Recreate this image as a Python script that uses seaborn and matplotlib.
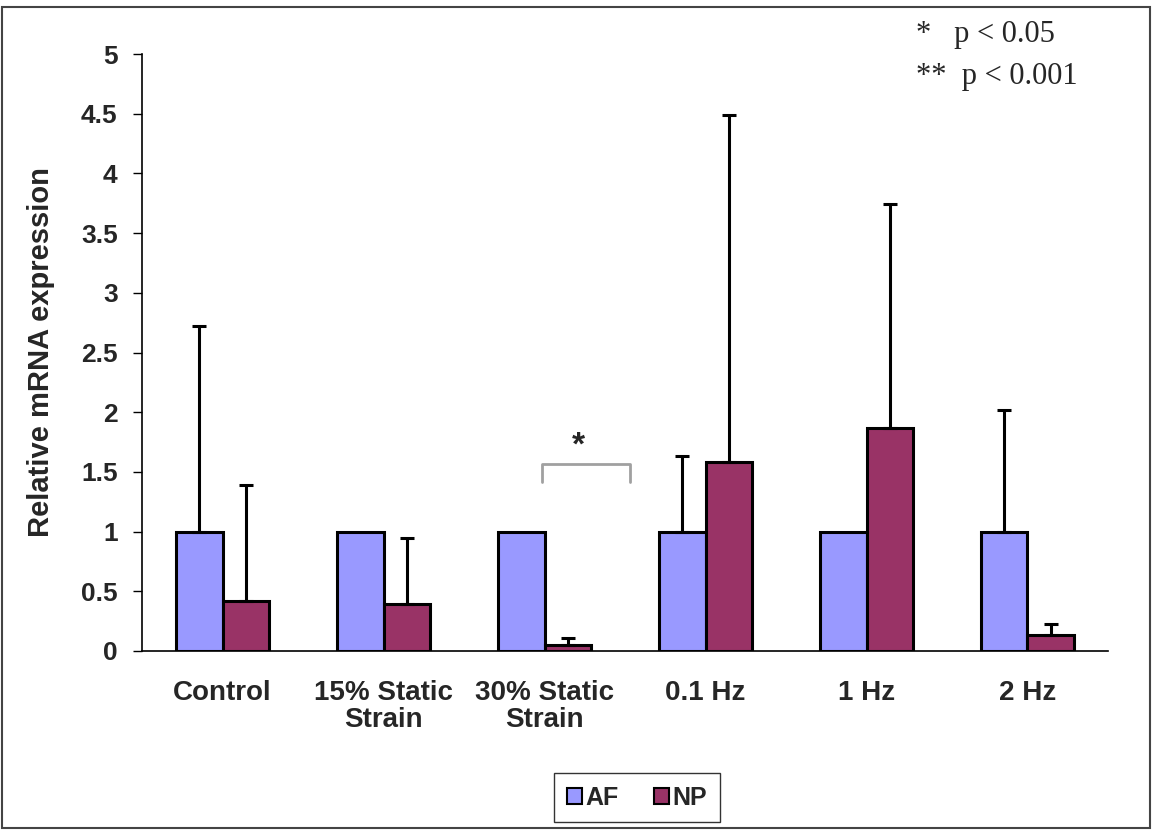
import numpy as np
import pandas as pd
import seaborn as sns
import matplotlib.pyplot as plt
from matplotlib.patches import Rectangle, Patch

# values
groups = ['Control', '15% Static\nStrain', '30% Static\nStrain', '0.1 Hz', '1 Hz', '2 Hz']
af_mean = [1.0, 1.0, 1.0, 1.0, 1.0, 1.0]
np_mean = [0.42, 0.39, 0.05, 1.58, 1.87, 0.13]
af_err = [1.72, 0.0, 0.0, 0.63, 0.0, 1.02]
np_err = [0.97, 0.56, 0.06, 2.91, 1.87, 0.10]
colors = {'AF': '#9999FF', 'NP': '#993366'}

df = pd.DataFrame({
    'group': groups * 2,
    'tissue': ['AF'] * len(groups) + ['NP'] * len(groups),
    'value': af_mean + np_mean,
})

sns.set_style('white')
plt.rcParams['font.family'] = ['Liberation Sans', 'DejaVu Sans']

fig = plt.figure(figsize=(11.52, 8.3), dpi=100)
ax = fig.add_axes([0.1233, 0.2157, 0.8385, 0.7192])

sns.barplot(data=df, x='group', y='value', hue='tissue', palette=colors,
            width=0.58, edgecolor='black', linewidth=2.2, errorbar=None,
            saturation=1, legend=False, ax=ax)

# one-sided error bars from the bar centres
n = len(groups)
for i, (means, errs) in enumerate([(af_mean, af_err), (np_mean, np_err)]):
    for j, bar in enumerate(ax.patches[i * n:(i + 1) * n]):
        if errs[j] <= 0:
            continue
        xc = bar.get_x() + bar.get_width() / 2
        ax.errorbar(xc, means[j], yerr=[[0], [errs[j]]], fmt='none',
                    ecolor='black', elinewidth=2.2, capsize=4.7, capthick=2.2)

ax.set_ylim(0, 5)
ax.set_xlim(-0.5, n - 0.5)
ax.set_yticks(np.arange(0, 5.01, 0.5))
ax.set_yticklabels(['0', '0.5', '1', '1.5', '2', '2.5', '3', '3.5', '4', '4.5', '5'],
                   fontsize=19, fontweight='bold')
ax.set_xticks(range(n))
ax.set_xticklabels(groups, fontsize=20, fontweight='bold', linespacing=1.05, va='top')
ax.set_xticks(np.arange(-0.5, n, 1.0), minor=True)
ax.tick_params(axis='x', which='major', length=0, pad=21)
ax.tick_params(axis='x', which='minor', length=7, width=1, color='black', direction='out')
ax.tick_params(axis='y', length=6.5, width=1, color='black', direction='out', pad=11,
               left=True)
ax.set_xlabel('')
ax.set_ylabel('Relative mRNA expression', fontsize=21, fontweight='bold')
ax.yaxis.set_label_coords(-0.090, 0.50)

for s in ['top', 'right']:
    ax.spines[s].set_visible(False)
for s in ['left', 'bottom']:
    ax.spines[s].set_color('black')
    ax.spines[s].set_linewidth(1.2)

# significance bracket
ax.plot([1.984, 1.984, 2.531, 2.531], [1.415, 1.566, 1.566, 1.415],
        color='#a0a0a0', lw=2, clip_on=False)
ax.text(2.21, 1.72, '*', ha='center', va='center', fontsize=24, fontweight='bold')

# p-value key
fig.text(0.795, 0.958, '*   p < 0.05', fontsize=22, family='Liberation Serif', va='center')
fig.text(0.795, 0.908, '**  p < 0.001', fontsize=22, family='Liberation Serif', va='center')

handles = [Patch(facecolor=colors[k], edgecolor='black', linewidth=1.5, label=k)
           for k in ['AF', 'NP']]
fig.legend(handles=handles, loc='center', bbox_to_anchor=(0.553, 0.039), ncol=2,
           prop={'weight': 'bold', 'size': 18}, frameon=True, fancybox=False,
           edgecolor='black', handlelength=0.6, handleheight=0.6,
           handletextpad=0.15, columnspacing=1.4, borderpad=0.5)

fig.patches.append(Rectangle((0.002, 0.002), 0.996, 0.99, transform=fig.transFigure,
                             fill=False, edgecolor='#444444', lw=1.5))

fig.savefig('out.png', dpi=100)
